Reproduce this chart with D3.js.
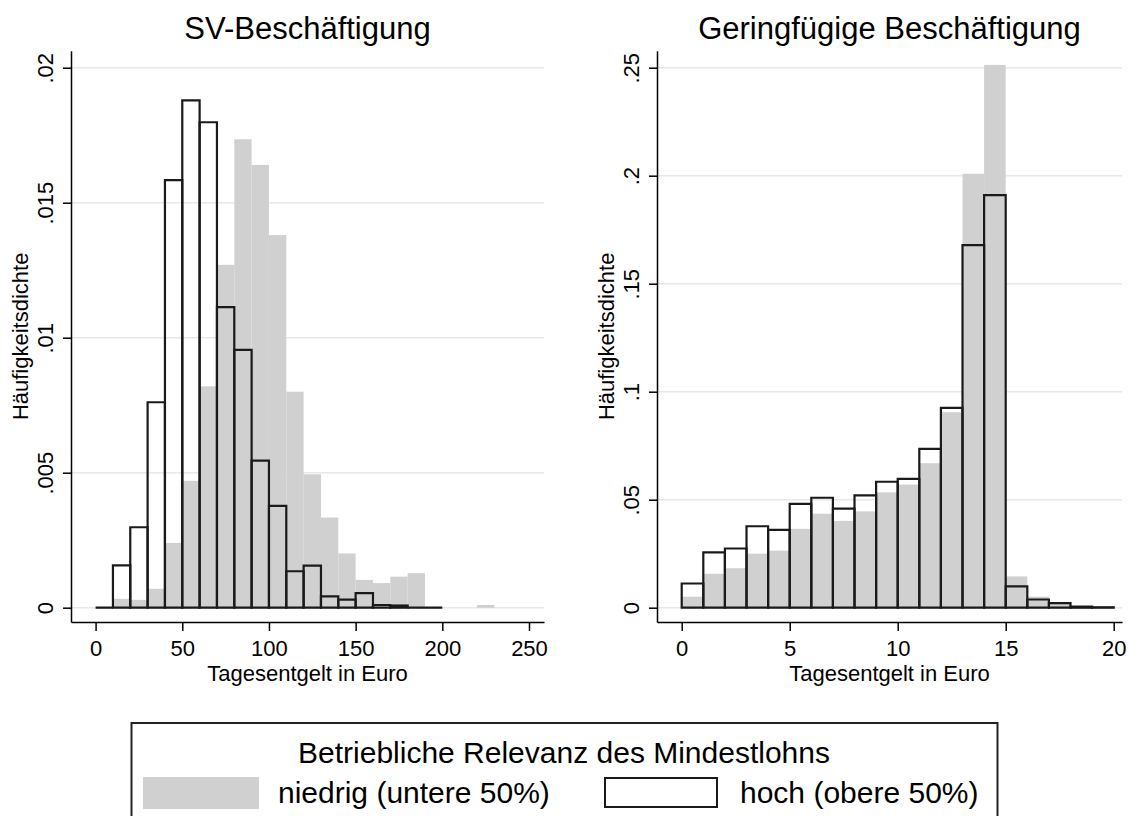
<!DOCTYPE html>
<html>
<head>
<meta charset="utf-8">
<script src="https://cdn.jsdelivr.net/npm/d3@7"></script>
<style>
  body { margin: 0; background: #fff; }
  svg { display: block; font-family: 'Liberation Sans', Arial, sans-serif; }
</style>
</head>
<body>
<svg id="chart" width="1129" height="816"></svg>
<script>
// SV-Beschäftigung: lower bound of each class (Euro), width 10
const svBins = [0, 10, 20, 30, 40, 50, 60, 70, 80, 90, 100, 110, 120, 130, 140, 150, 160, 170, 180, 190, 200, 210, 220]
const svBinWidth = 10
const svNiedrig = [0, .00033, .00029, .0007, .0024, .0047, .0082, .0127, .01735, .0164, .0138, .0080, .00494, .00334, .00201, .00103, .00091, .00115, .00128, 0, 0, 0, .0001]
const svHoch = [0, .00157, .00298, .00761, .01584, .01879, .01798, .01113, .00955, .00545, .00377, .00135, .00156, .00042, .0003, .00054, .0001, .00008, 0, 0]
const svXTicks = [0, 50, 100, 150, 200, 250]
const svYTicks = [0, .005, .01, .015, .02]

// Geringfügige Beschäftigung: width 1
const gbBins = [0, 1, 2, 3, 4, 5, 6, 7, 8, 9, 10, 11, 12, 13, 14, 15, 16, 17, 18, 19]
const gbBinWidth = 1
const gbNiedrig = [.0051, .0157, .0183, .0250, .0264, .0365, .0435, .0402, .0446, .0534, .0570, .0669, .0905, .2009, .2513, .0145, .0051, .0018, .0005, 0]
const gbHoch = [.0112, .0256, .0274, .0377, .0360, .0481, .0509, .0459, .0520, .0583, .0596, .0735, .0925, .1679, .1910, .0099, .0038, .0021, .0005, .0002]
const gbXTicks = [0, 5, 10, 15, 20]
const gbYTicks = [0, .05, .1, .15, .2, .25]

const xTitle = 'Tagesentgelt in Euro'
const yTitle = 'Häufigkeitsdichte'
const legendTitle = 'Betriebliche Relevanz des Mindestlohns'
const legendLabels = ['niedrig (untere 50%)', 'hoch (obere 50%)']

const grayFill = '#d0d0d0'
const lineColor = '#1a1a1a'
const gridColor = '#e8e8e8'
const tickFont = 22
const titleFont = 31
const legendFont = 30

const svg = d3.select('#chart')

let fmtTick = d => d === 0 ? '0' : String(d).replace(/^0/, '')

let drawPanel = function (p) {
  let g = svg.append('g').classed(p.id, true)
  let x = d3.scaleLinear().domain(p.xDomain).range([p.left, p.right])
  let y = d3.scaleLinear().domain(p.yDomain).range([p.bottom, p.top])

  // horizontal grid
  g.append('g')
    .selectAll('line')
    .data(p.yTicks)
    .enter()
    .append('line')
    .attr('x1', p.left + 1)
    .attr('x2', p.right)
    .attr('y1', d => y(d))
    .attr('y2', d => y(d))
    .style('stroke', gridColor)
    .style('stroke-width', 1.5)

  // niedrig: filled gray bars
  let low = p.niedrig.map((v, i) => ({'lo': p.bins[i], 'v': v})).filter(d => d.v > 0)
  g.append('g')
    .selectAll('rect')
    .data(low)
    .enter()
    .append('rect')
    .attr('x', d => x(d.lo))
    .attr('width', d => x(d.lo + p.binWidth) - x(d.lo))
    .attr('y', d => y(d.v))
    .attr('height', d => y(0) - y(d.v))
    .style('fill', grayFill)

  // hoch: outlined bars (paths so empty classes still show as a line)
  let high = p.hoch.map((v, i) => ({'lo': p.bins[i], 'v': v}))
  g.append('g')
    .selectAll('path')
    .data(high)
    .enter()
    .append('path')
    .attr('d', d => `M${x(d.lo)},${y(0)}V${y(d.v)}H${x(d.lo + p.binWidth)}V${y(0)}Z`)
    .style('fill', 'none')
    .style('stroke', lineColor)
    .style('stroke-width', 2.2)

  // x axis
  let xa = g.append('g')
    .attr('transform', `translate(0,${p.bottom})`)
    .call(d3.axisBottom(x).tickValues(p.xTicks).tickSize(9).tickSizeOuter(0).tickFormat(d3.format('d')))
  // y axis
  let ya = g.append('g')
    .attr('transform', `translate(${p.left},0)`)
    .call(d3.axisLeft(y).tickValues(p.yTicks).tickSize(8).tickSizeOuter(0).tickFormat(fmtTick))
  for (let a of [xa, ya]) {
    a.attr('font-size', null).attr('font-family', null)
    a.select('.domain').style('stroke', '#000').style('stroke-width', 1.5)
    a.selectAll('.tick line').style('stroke', '#000').style('stroke-width', 1.5)
    a.selectAll('text').style('font-size', tickFont + 'px').style('fill', '#000')
  }
  xa.selectAll('text').attr('y', 34).attr('dy', 0)
  ya.selectAll('text')
    .attr('x', 0)
    .attr('dy', 0)
    .attr('text-anchor', 'middle')
    .attr('transform', 'translate(-18,0) rotate(-90)')

  // titles
  let cx = (p.left + p.right) / 2
  g.append('text')
    .attr('x', cx)
    .attr('y', 39)
    .attr('text-anchor', 'middle')
    .style('font-size', titleFont + 'px')
    .text(p.title)
  g.append('text')
    .attr('x', cx)
    .attr('y', 681)
    .attr('text-anchor', 'middle')
    .style('font-size', tickFont + 'px')
    .text(xTitle)
  g.append('text')
    .attr('transform', `translate(${p.left - 43},${(p.top + p.bottom) / 2}) rotate(-90)`)
    .attr('text-anchor', 'middle')
    .style('font-size', tickFont + 'px')
    .text(yTitle)
}

drawPanel({
  'id': 'sv', 'title': 'SV-Beschäftigung',
  'bins': svBins, 'binWidth': svBinWidth, 'niedrig': svNiedrig, 'hoch': svHoch,
  'xTicks': svXTicks, 'yTicks': svYTicks,
  'xDomain': [-14.19, 258.66], 'yDomain': [-0.00053, 0.02063],
  'left': 71, 'right': 544, 'top': 50.7, 'bottom': 622
})
drawPanel({
  'id': 'gb', 'title': 'Geringfügige Beschäftigung',
  'bins': gbBins, 'binWidth': gbBinWidth, 'niedrig': gbNiedrig, 'hoch': gbHoch,
  'xTicks': gbXTicks, 'yTicks': gbYTicks,
  'xDomain': [-1.144, 20.384], 'yDomain': [-0.00662, 0.25787],
  'left': 657, 'right': 1122, 'top': 50.7, 'bottom': 622
})

// legend
let lg = svg.append('g').classed('legend', true)
lg.append('rect')
  .attr('x', 131.5)
  .attr('y', 723)
  .attr('width', 866)
  .attr('height', 120)
  .style('fill', 'none')
  .style('stroke', '#222')
  .style('stroke-width', 2)
lg.append('text')
  .attr('x', 564)
  .attr('y', 763)
  .attr('text-anchor', 'middle')
  .style('font-size', legendFont + 'px')
  .text(legendTitle)
lg.append('rect')
  .attr('x', 143)
  .attr('y', 777)
  .attr('width', 116)
  .attr('height', 32)
  .style('fill', grayFill)
lg.append('rect')
  .attr('x', 605)
  .attr('y', 778)
  .attr('width', 112)
  .attr('height', 29)
  .style('fill', 'none')
  .style('stroke', lineColor)
  .style('stroke-width', 2)
lg.selectAll('.lab')
  .data(legendLabels)
  .enter()
  .append('text')
  .classed('lab', true)
  .attr('x', (d, i) => i === 0 ? 278 : 740)
  .attr('y', 803)
  .style('font-size', legendFont + 'px')
  .text(d => d)
</script>
</body>
</html>
